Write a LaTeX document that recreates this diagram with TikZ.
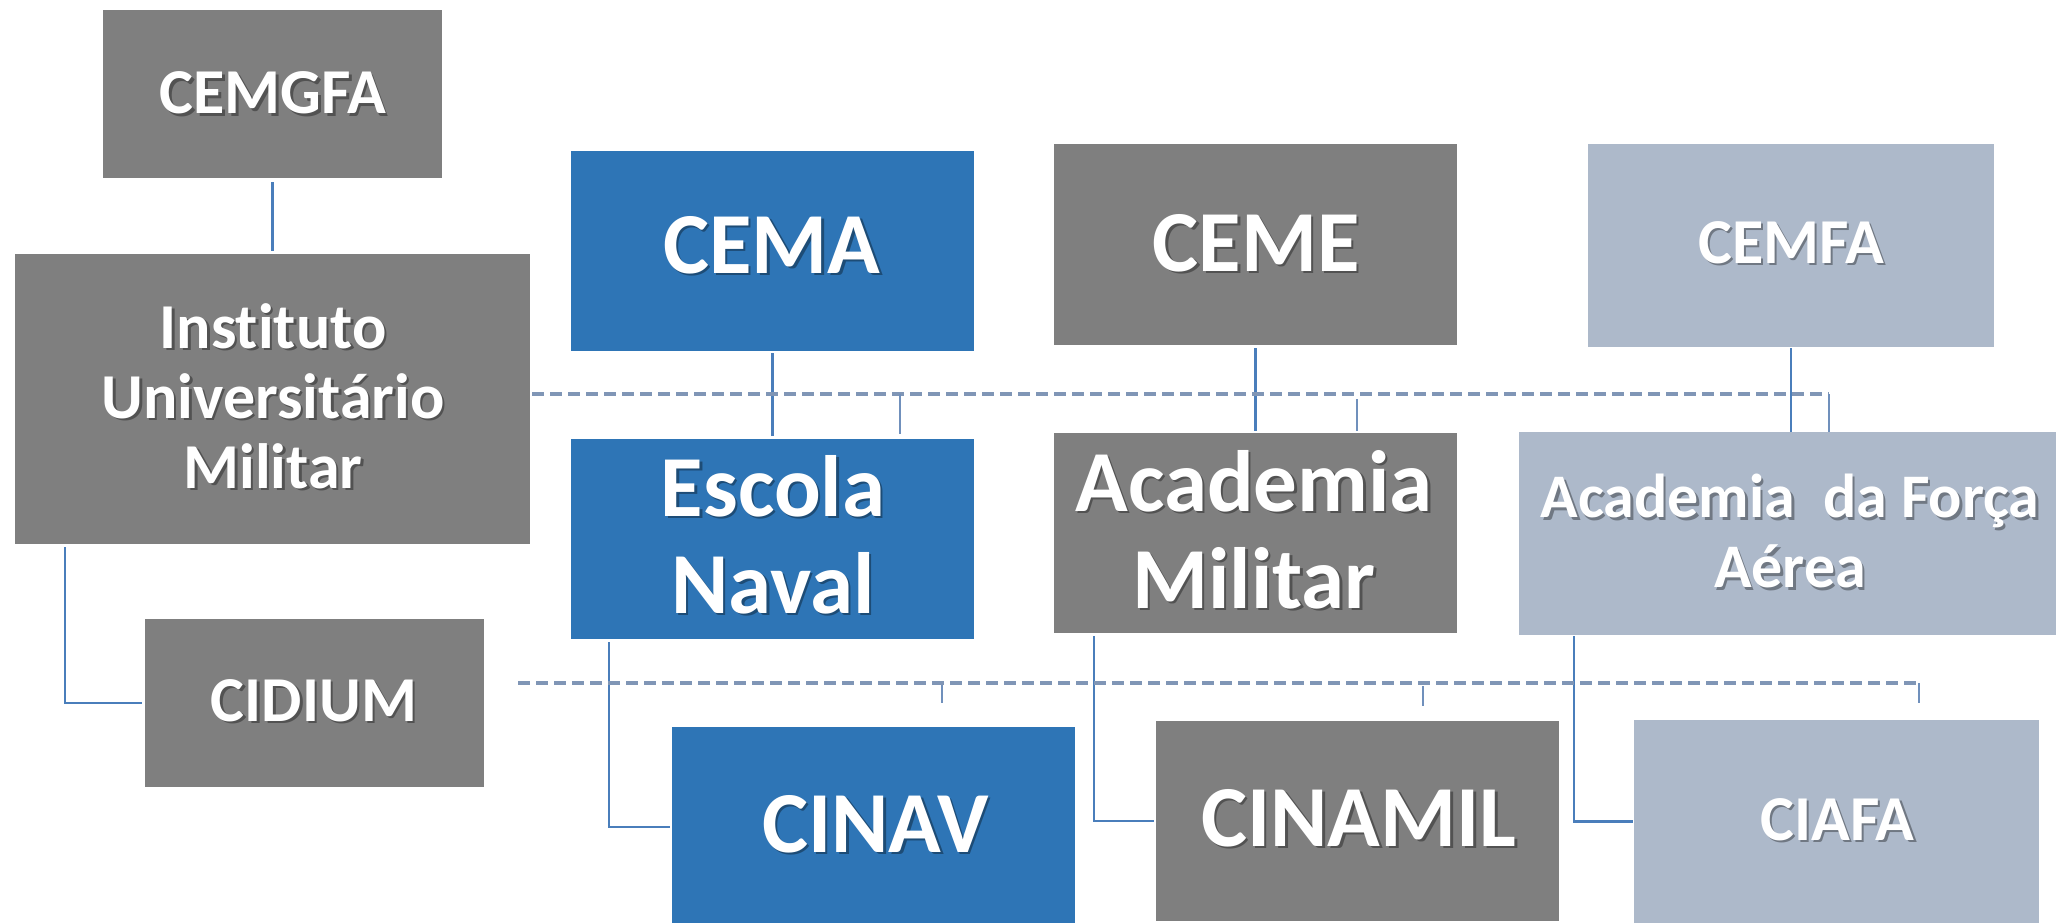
\documentclass[tikz,border=0pt]{standalone}
\usepackage{fontspec}
\setmainfont{Carlito}[Ligatures=NoCommon]
\definecolor{boxgray}{HTML}{7F7F7F}
\definecolor{boxblue}{HTML}{2E75B6}
\definecolor{boxlight}{HTML}{ADB9CA}
\definecolor{linkblue}{HTML}{4A7EBB}
\definecolor{dashblue}{HTML}{8096B6}
\definecolor{stubblue}{HTML}{7090BC}
\newcommand\fbig{\fontsize{87}{97}\selectfont\bfseries}
\newcommand\fmid{\fontsize{64}{70}\selectfont\bfseries}
\newcommand\fafa{\fontsize{62}{70}\selectfont\bfseries}
\tikzset{
  orgbox/.style={rectangle, inner sep=0pt, outer sep=0pt, draw=none},
  txt/.style={text=white, inner sep=0pt, align=center},
  txtshadow/.style={text=black, text opacity=0.35, inner sep=0pt, align=center},
  link/.style={draw=linkblue, line width=2.5pt},
  dashlink/.style={draw=dashblue, line width=3.5pt, dash pattern=on 12pt off 6pt},
  stub/.style={draw=stubblue, line width=2pt}
}
\newcommand\obox[6]{\node[orgbox, fill=#2, minimum width=#5pt, minimum height=#6pt] (#1) at (#3,#4) {};}
\newcommand\lbl[5]{%
  \node[txtshadow, anchor=#2, font=#4] (#1-s) at ([shift={(2.5,2.5)}]#3) {#5};
  \node[txt, anchor=#2, font=#4] (#1) at (#3) {#5};}
\begin{document}
\begin{tikzpicture}[x=1pt,y=-1pt]
\useasboundingbox (0,0) rectangle (2056,923);
% boxes
\obox{CEMGFA}{boxgray}{272.5}{94}{339}{168}
\obox{IUM}{boxgray}{272.5}{399}{515}{290}
\obox{CEMA}{boxblue}{772.5}{251}{403}{200}
\obox{CEME}{boxgray}{1255.5}{244.5}{403}{201}
\obox{CEMFA}{boxlight}{1791}{245.5}{406}{203}
\obox{EN}{boxblue}{772.5}{539}{403}{200}
\obox{AM}{boxgray}{1255.5}{533}{403}{200}
\obox{AFA}{boxlight}{1790}{533.5}{542}{203}
\obox{CIDIUM}{boxgray}{314.5}{703}{339}{168}
\obox{CINAV}{boxblue}{873.5}{827}{403}{200}
\obox{CINAMIL}{boxgray}{1357.5}{821}{403}{200}
\obox{CIAFA}{boxlight}{1836.5}{821.5}{405}{203}
% labels
\lbl{tCEMGFA}{base}{273,114}{\fmid}{CEMGFA}
\lbl{tIUM}{center}{273,396}{\fmid}{Instituto\\Universitário\\Militar}
\lbl{tCEMA}{base}{772,273}{\fbig}{CEMA}
\lbl{tCEME}{base}{1256,271}{\fbig}{CEME}
\lbl{tCEMFA}{base}{1791,263}{\fmid}{CEMFA}
\lbl{tEN}{center}{773,534.5}{\fbig}{Escola\\Naval}
\lbl{tAM}{center}{1254,529.5}{\fbig}{Academia\\Militar}
\lbl{tAFA}{center}{1790,531}{\fafa}{Academia\ \ da Força\\Aérea}
\lbl{tCIDIUM}{base}{314,721}{\fmid}{CIDIUM}
\lbl{tCINAV}{base}{875.5,852}{\fbig}{CINAV}
\lbl{tCINAMIL}{base}{1359,846}{\fbig}{CINAMIL}
\lbl{tCIAFA}{base}{1837.5,840}{\fmid}{CIAFA}
% solid connectors
\draw[link, shorten <=4pt, shorten >=3pt] (CEMGFA) -- (IUM);
\draw[link, shorten <=2pt, shorten >=3pt] (CEMA) -- (EN);
\draw[link, shorten <=3pt, shorten >=2pt] (CEME) -- (AM);
\draw[link, shorten <=1pt] (CEMFA.south) -- (CEMFA.south |- AFA.north);
\draw[link, shorten <=3pt, shorten >=3pt] ([xshift=50pt]IUM.south west) |- (CIDIUM.west);
\draw[link, shorten <=3pt, shorten >=2pt] ([xshift=38pt]EN.south west) |- (CINAV.west);
\draw[link, shorten <=3pt, shorten >=2pt] ([xshift=40pt]AM.south west) |- (CINAMIL.west);
\draw[link, shorten <=1pt, shorten >=1pt] ([xshift=55pt]AFA.south west) |- (CIAFA.west);
% upper dashed line
\coordinate (dU1) at (532,394);
\coordinate (dU2) at (1829,394);
\coordinate (sEN) at (900,394);
\coordinate (sAM) at (1357,399);
\draw[dashlink] (dU1) -- (dU2);
\draw[stub] (dU2) -- (dU2 |- AFA.north);
\draw[stub] (sEN) -- ([yshift=5pt]sEN |- EN.north);
\draw[stub] (sAM) -- ([yshift=2pt]sAM |- AM.north);
% lower dashed line
\coordinate (dL1) at (518,683);
\coordinate (dL2) at (1919,683);
\coordinate (sCINAV) at (942,685);
\coordinate (sCINAMIL) at (1423,686);
\draw[dashlink] (dL1) -- (dL2);
\draw[stub] (sCINAV) -- ([yshift=24pt]sCINAV |- CINAV.north);
\draw[stub] (sCINAMIL) -- ([yshift=15pt]sCINAMIL |- CINAMIL.north);
\draw[stub] (dL2) -- ([yshift=17pt]dL2 |- CIAFA.north);
\end{tikzpicture}
\end{document}
